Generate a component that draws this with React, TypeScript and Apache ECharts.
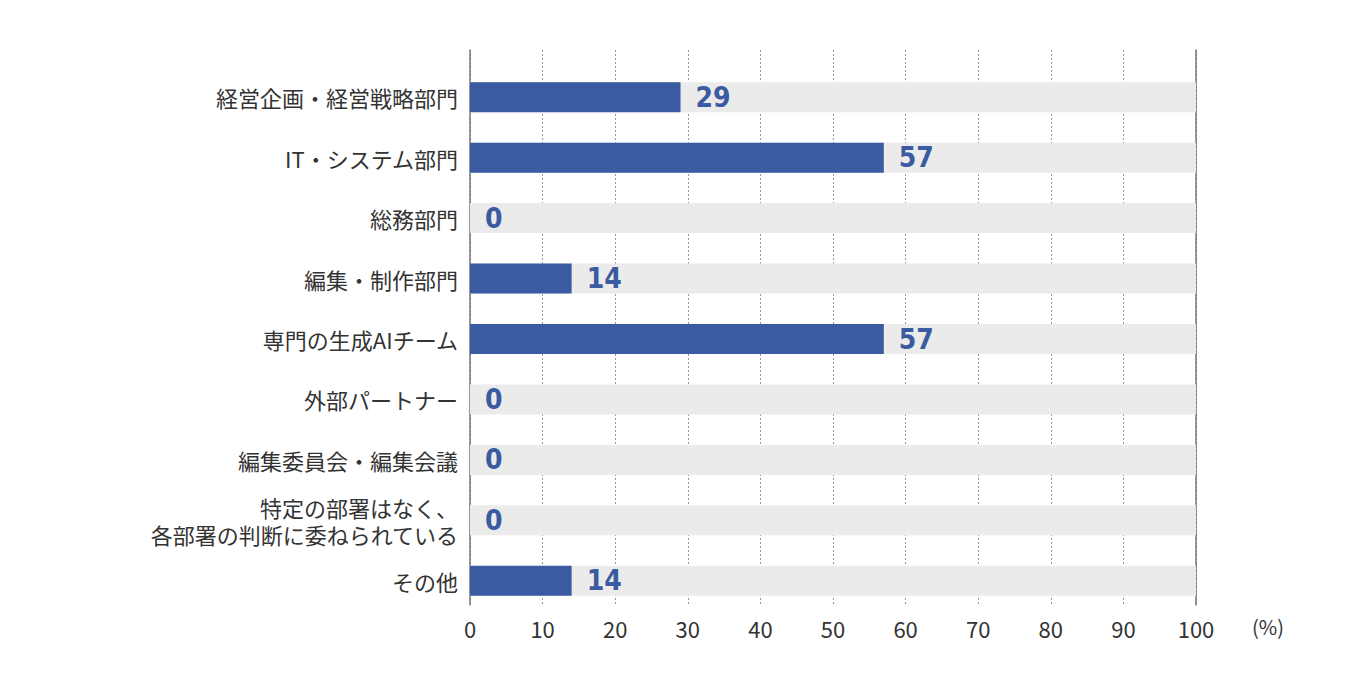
import { useEffect, useRef } from 'react'
import * as echarts from 'echarts'

const categories = [
  '経営企画・経営戦略部門',
  'IT・システム部門',
  '総務部門',
  '編集・制作部門',
  '専門の生成AIチーム',
  '外部パートナー',
  '編集委員会・編集会議',
  '特定の部署はなく、\n各部署の判断に委ねられている',
  'その他',
]
const values = [29, 57, 0, 14, 57, 0, 0, 0, 14]
const xTicks = [0, 10, 20, 30, 40, 50, 60, 70, 80, 90, 100]

const FONT = '"Noto Sans CJK JP", "Noto Sans", sans-serif'
const NUM_FONT = '"Liberation Sans Narrow", "DejaVu Sans Condensed", Roboto, sans-serif'
const LEFT = 470
const RIGHT = 1346 - 1196

const App = () => {
  const ref = useRef<HTMLDivElement | null>(null)

  useEffect(() => {
    if (!ref.current) return
    const chart = echarts.init(ref.current, null, { renderer: 'svg' })

    const option = {
      animation: false,
      backgroundColor: '#fff',
      grid: [
        // bars
        { left: LEFT, right: RIGHT, top: 67, height: 544 },
        // axis frame + grid lines
        { left: LEFT, right: RIGHT, top: 50, height: 555 },
      ],
      xAxis: [
        {
          gridIndex: 0,
          type: 'value',
          min: 0,
          max: 100,
          show: false,
        },
        {
          gridIndex: 1,
          type: 'value',
          min: 0,
          max: 100,
          interval: 10,
          axisLine: { show: false },
          axisTick: { show: false },
          axisLabel: {
            color: '#333',
            fontSize: 22,
            fontFamily: FONT,
            margin: 12,
            formatter: (v: number) => (xTicks.includes(v) ? String(v) : ''),
          },
          splitLine: {
            show: true,
            lineStyle: { color: '#999', type: [2, 2], width: 1 },
          },
          name: '(%)',
          nameLocation: 'end',
          nameGap: 56,
          nameTextStyle: {
            color: '#333',
            fontSize: 20,
            fontFamily: FONT,
            verticalAlign: 'top',
            padding: [12, 0, 0, 0],
          },
        },
      ],
      yAxis: [
        {
          gridIndex: 0,
          type: 'category',
          data: categories,
          inverse: true,
          axisLine: { show: false },
          axisTick: { show: false },
          axisLabel: {
            color: '#333',
            fontSize: 22,
            lineHeight: 27,
            fontFamily: FONT,
            margin: 12,
            align: 'right',
          },
        },
        {
          gridIndex: 1,
          type: 'value',
          position: 'left',
          axisLine: { show: true, lineStyle: { color: '#777', width: 1.5 } },
          axisTick: { show: false },
          axisLabel: { show: false },
          splitLine: { show: false },
        },
        {
          gridIndex: 1,
          type: 'value',
          position: 'right',
          axisLine: { show: true, lineStyle: { color: '#777', width: 1.5 } },
          axisTick: { show: false },
          axisLabel: { show: false },
          splitLine: { show: false },
        },
      ],
      series: [
        {
          type: 'bar',
          xAxisIndex: 0,
          yAxisIndex: 0,
          data: values,
          barWidth: 30,
          itemStyle: { color: '#3a5ba1' },
          showBackground: true,
          backgroundStyle: { color: '#ebebeb' },
          label: {
            show: true,
            position: 'right',
            distance: 15,
            color: '#3a5ba1',
            fontSize: 28,
            fontWeight: 'bold',
            fontFamily: NUM_FONT,
          },
          z: 1,
        },
      ],
    }

    chart.setOption(option)
    return () => chart.dispose()
  }, [])

  return <div ref={ref} style={{ width: 1346, height: 685, margin: -8 }} />
}

export default App
